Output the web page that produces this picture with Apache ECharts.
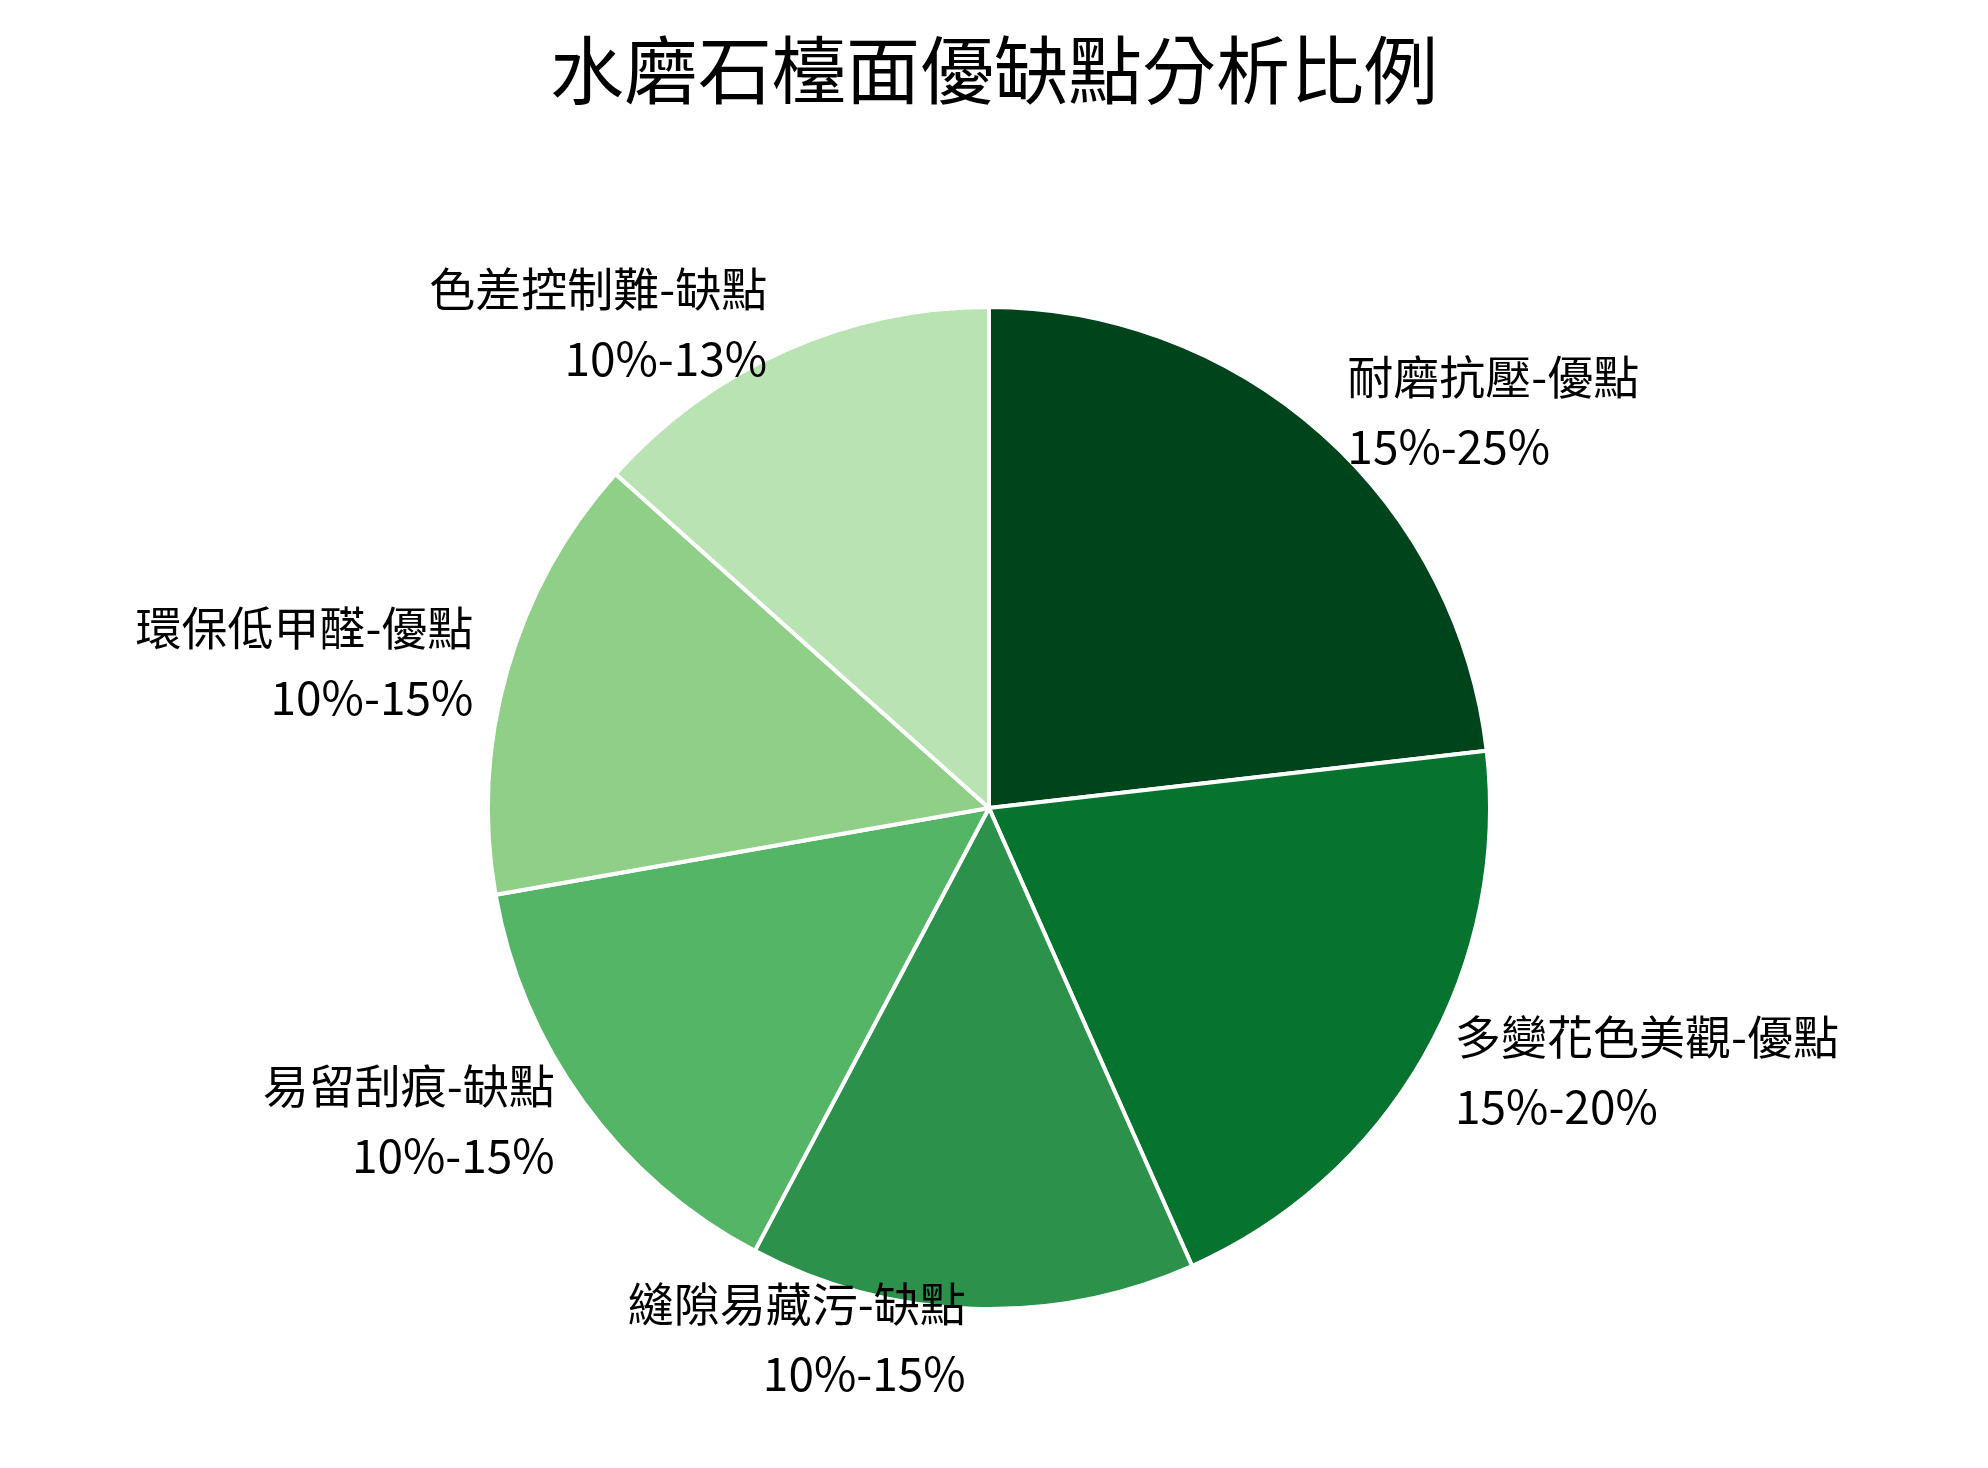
<!DOCTYPE html>
<html><head><meta charset="utf-8">
<script src="https://cdn.jsdelivr.net/npm/echarts@6/dist/echarts.min.js"></script>
<style>html,body{margin:0;padding:0;background:#fff}#c{width:1988px;height:1468px}</style>
</head><body><div id="c"></div>
<script>
const names = ['耐磨抗壓-優點','多變花色美觀-優點','縫隙易藏污-缺點','易留刮痕-缺點','環保低甲醛-優點','色差控制難-缺點'];
const ranges = ['15%-25%','15%-20%','10%-15%','10%-15%','10%-15%','10%-13%'];
const values = [23.2,20.2,14.4,14.5,14.4,13.4];
const colors = ['#00441b','#06732f','#2b914b','#55b567','#8fcf88','#b9e3b2'];
const chart = echarts.init(document.getElementById('c'));
chart.setOption({
  title:{text:'水磨石檯面優缺點分析比例',left:'center',top:28,textStyle:{fontFamily:'Noto Sans CJK TC',fontSize:74,fontWeight:'normal',color:'#000'}},
  series:[{type:'pie',center:[989,808],radius:[0,501],startAngle:90,clockwise:true,
    data:names.map((n,i)=>({name:n,value:values[i],range:ranges[i],itemStyle:{color:colors[i]}})),
    itemStyle:{borderColor:'#fff',borderWidth:4},
    label:{show:true,position:'outside',formatter:p=>p.name+'\n'+p.data.range,fontFamily:'Noto Sans CJK TC',fontSize:46,lineHeight:70,color:'#000'},
    labelLine:{show:false,length:30,length2:0},
    emphasis:{disabled:true},animation:false
  }]
});
</script></body></html>
